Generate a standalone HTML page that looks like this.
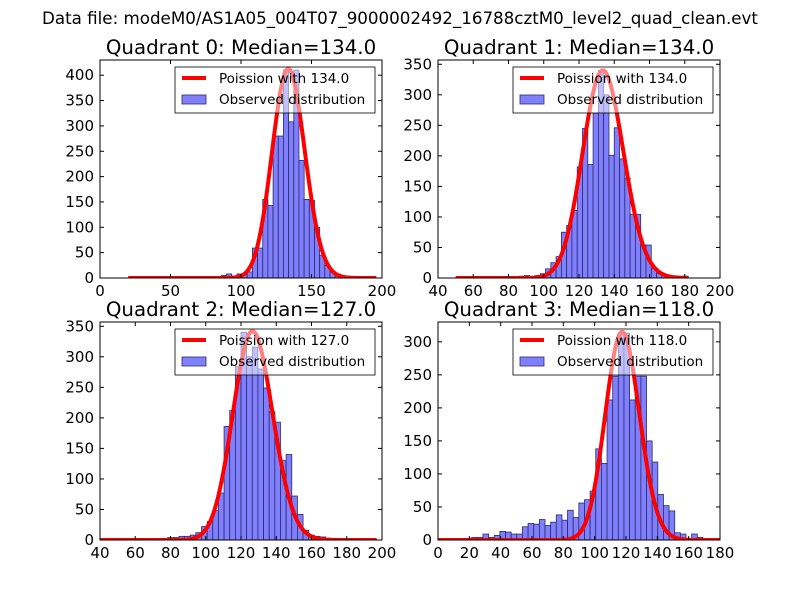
<!DOCTYPE html>
<html><head><meta charset="utf-8"><style>
body{margin:0;background:#fff}
svg{display:block;font-family:"DejaVu Sans","Liberation Sans",sans-serif}
</style></head><body>
<svg id="fig" width="800" height="600" xmlns="http://www.w3.org/2000/svg">
<rect width="800" height="600" fill="#fff"/>
<text x="400" y="24" text-anchor="middle" font-size="16.7">Data file: modeM0/AS1A05_004T07_9000002492_16788cztM0_level2_quad_clean.evt</text>
</svg>
<script>
// Quadrant 0
const q0Counts=[0,0,0,0,0,0,0,0,0,0,0,0,0,1,2,2,1,3,5,8,4,8,6,12,59,59,155,143,280,280,410,308,410,232,155,153,100,45,25,12,8,4,2];
const q0Start=20, q0BinWidth=3.67, q0Lambda=134, q0Peak=413, q0CurveRange=[20,196];
const q0XTicks=[0,50,100,150,200], q0YTicks=[0,50,100,150,200,250,300,350,400];
// Quadrant 1
const q1Counts=[0,0,0,0,0,0,0,0,0,0,0,0,3,4,2,4,7,15,25,35,75,86,111,182,245,186,270,340,300,201,246,195,163,104,104,54,54,15,7,4,2,1,0,3];
const q1Start=50, q1BinWidth=3, q1Lambda=134, q1Peak=340, q1CurveRange=[50,182];
const q1XTicks=[40,60,80,100,120,140,160,180,200], q1YTicks=[0,50,100,150,200,250,300,350];
// Quadrant 2
const q2Counts=[0,0,0,0,0,0,0,0,0,0,0,0,4,4,6,6,8,12,22,30,48,77,186,212,284,340,300,316,280,249,210,193,130,140,72,42,16,8,6,5,3,2];
const q2Start=40, q2BinWidth=3.2, q2Lambda=127, q2Peak=342, q2CurveRange=[40,197];
const q2XTicks=[40,60,80,100,120,140,160,180,200], q2YTicks=[0,50,100,150,200,250,300,350];
// Quadrant 3
const q3Counts=[4,4,9,4,7,13,12,9,9,20,25,24,31,22,27,38,30,45,34,56,61,74,138,116,212,248,313,313,212,248,248,150,118,69,52,44,11,9,0,9,4];
const q3Start=21.5, q3BinWidth=3.6, q3Lambda=118, q3Peak=315, q3CurveRange=[0,180];
const q3XTicks=[0,20,40,60,80,100,120,140,160,180], q3YTicks=[0,50,100,150,200,250,300];

const NS="http://www.w3.org/2000/svg";
const svg=document.getElementById('fig');
function mk(tag,attrs,parent){const e=document.createElementNS(NS,tag);for(const k in attrs)e.setAttribute(k,attrs[k]);(parent||svg).appendChild(e);return e;}
function logPmf(k,l){let s=0;for(let i=2;i<=k;i++)s+=Math.log(i);return k*Math.log(l)-l-s;}

function panel(idx,box,xmin,xmax,ymax,counts,start,bw,lam,peak,crange,xt,yt){
  const [L,T,R,B]=box;
  const g=mk('g',{});
  
  
  const sx=v=>L+(v-xmin)/(xmax-xmin)*(R-L);
  const sy=v=>B-v/ymax*(B-T);
  const cp=mk('clipPath',{id:'c'+idx},g);mk('rect',{x:L,y:T,width:R-L,height:B-T},cp);
  const bars=mk('g',{'clip-path':'url(#c'+idx+')'},g);
  counts.forEach((c,i)=>{ if(c<=0)return;
    const x0=sx(start+i*bw),x1=sx(start+(i+1)*bw);
    const r=mk('rect',{x:x0,y:sy(c),width:x1-x0,height:B-sy(c),fill:'rgb(128,128,255)',stroke:'#2a2a66','stroke-width':0.8},bars);
    
    
  });
  const lp0=logPmf(lam,lam);let pts=[];
  for(let k=crange[0];k<=crange[1];k++){pts.push(sx(k).toFixed(2)+','+sy(peak*Math.exp(logPmf(k,lam)-lp0)).toFixed(2));}
  const pl=mk('polyline',{points:pts.join(' '),fill:'none',stroke:'#ff0000','stroke-width':4,'stroke-linejoin':'round'},bars);
  
  
  const fr=mk('rect',{x:L,y:T,width:R-L,height:B-T,fill:'none',stroke:'#000','stroke-width':1},g);
  
  
  xt.forEach(v=>{const x=sx(v);
    mk('line',{x1:x,y1:B,x2:x,y2:B-4,stroke:'#000'},g);mk('line',{x1:x,y1:T,x2:x,y2:T+4,stroke:'#000'},g);
    const t=mk('text',{x:x,y:B+18,'text-anchor':'middle','font-size':15},g);t.textContent=v;
    
    
  });
  yt.forEach(v=>{const y=sy(v);
    mk('line',{x1:L,y1:y,x2:L+4,y2:y,stroke:'#000'},g);mk('line',{x1:R,y1:y,x2:R-4,y2:y,stroke:'#000'},g);
    const t=mk('text',{x:L-6,y:y+5,'text-anchor':'end','font-size':15},g);t.textContent=v;
    
    
  });
  const ti=mk('text',{x:(L+R)/2,y:T-6,'text-anchor':'middle','font-size':19.8},g);
  ti.textContent='Quadrant '+idx+': Median='+lam.toFixed(1);
  
  
  const lg=mk('g',{},g);
  
  
  const lx=R-207,ly=T+7;
  mk('rect',{x:lx,y:ly,width:200,height:46,fill:'rgba(255,255,255,0.5)',stroke:'#000','stroke-width':0.8},lg);
  mk('line',{x1:lx+7,y1:ly+11,x2:lx+31,y2:ly+11,stroke:'#ff0000','stroke-width':4},lg);
  const t1=mk('text',{x:lx+44,y:ly+16,'font-size':13.5},lg);t1.textContent='Poission with '+lam.toFixed(1);
  
  
  mk('rect',{x:lx+7,y:ly+28,width:24,height:9,fill:'rgb(128,128,255)',stroke:'#2a2a66','stroke-width':0.8},lg);
  const t2=mk('text',{x:lx+44,y:ly+37,'font-size':13.5},lg);t2.textContent='Observed distribution';
  
  
}
const WL=[100,382],WR=[438,720],HT=[60,278],HB=[322,540];
panel(0,[WL[0],HT[0],WL[1],HT[1]],0,200,430,q0Counts,q0Start,q0BinWidth,q0Lambda,q0Peak,q0CurveRange,q0XTicks,q0YTicks);
panel(1,[WR[0],HT[0],WR[1],HT[1]],40,200,357,q1Counts,q1Start,q1BinWidth,q1Lambda,q1Peak,q1CurveRange,q1XTicks,q1YTicks);
panel(2,[WL[0],HB[0],WL[1],HB[1]],40,200,357,q2Counts,q2Start,q2BinWidth,q2Lambda,q2Peak,q2CurveRange,q2XTicks,q2YTicks);
panel(3,[WR[0],HB[0],WR[1],HB[1]],0,180,330,q3Counts,q3Start,q3BinWidth,q3Lambda,q3Peak,q3CurveRange,q3XTicks,q3YTicks);
</script>
</body></html>
